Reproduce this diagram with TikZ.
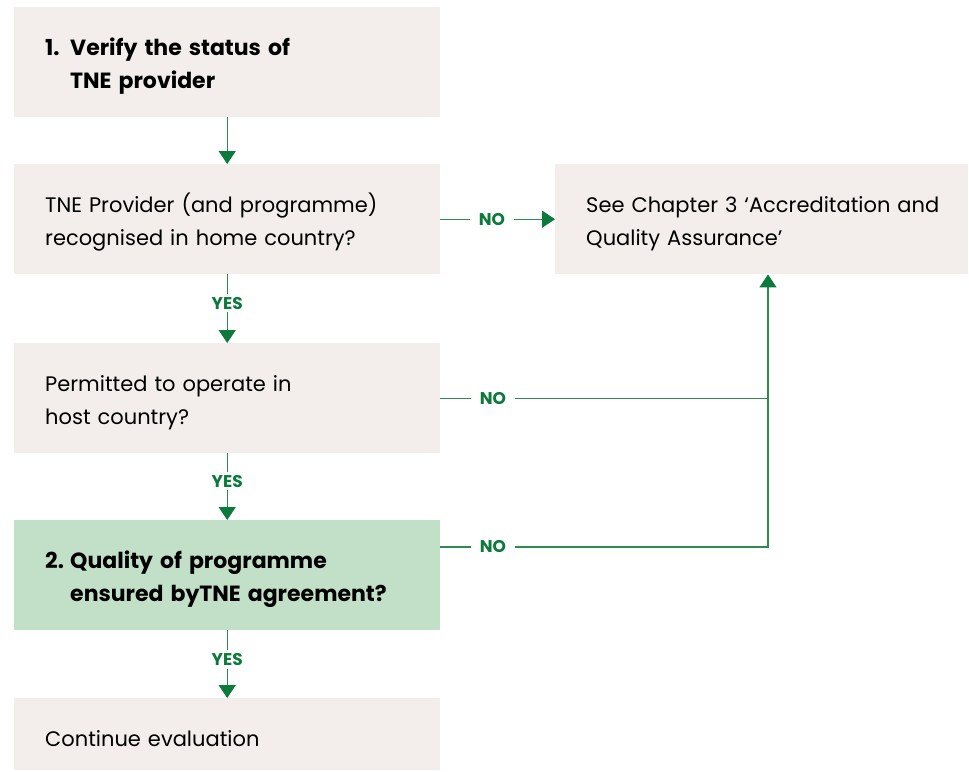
\documentclass[tikz,border=0pt]{standalone}
\usepackage{fontspec}
\setmainfont{Poppins}
\usetikzlibrary{arrows.meta,calc}
\definecolor{boxgrey}{HTML}{F3EEEB}
\definecolor{boxgreen}{HTML}{C2E0C7}
\definecolor{linkgreen}{HTML}{2E8B50}
\definecolor{labelgreen}{HTML}{0B7A3B}
\tikzset{
  stepbox/.style={rectangle, fill=boxgrey, draw=none, anchor=north west,
    minimum width=426pt, minimum height=110pt, text width=364pt,
    inner xsep=31pt, align=left, font=\fontsize{21}{33}\selectfont,
    execute at begin node={\rule{0pt}{25pt}}},
  keybox/.style={stepbox, fill=boxgreen},
  link/.style={draw=linkgreen, line width=1.3pt,
    -{Triangle[width=17pt,length=13pt,color=labelgreen]}},
  plainlink/.style={draw=linkgreen, line width=1.3pt},
  answer/.style={fill=white, text=labelgreen, inner xsep=9pt, inner ysep=3pt,
    font=\fontsize{17}{19}\selectfont\bfseries},
}
\newcommand{\numlabel}[1]{\makebox[25pt][l]{#1}}
\newcommand{\headfont}{\fontsize{22}{33}\selectfont\bfseries}
\begin{document}
\begin{tikzpicture}[x=1pt,y=-1pt]
\useasboundingbox (0,0) rectangle (969,771);
\fill[white] (0,0) rectangle (969,771);

% steps of the check
\node[stepbox] (verify) at (14,7)
  {\headfont\numlabel{1.}Verify the status of\\\hspace*{25pt}TNE provider};
\node[stepbox] (recog) at (14,164)
  {TNE Provider (and programme)\\recognised in home country?};
\node[stepbox, minimum width=413pt, text width=351pt] (chap) at (555,164)
  {\mbox{See Chapter 3 ‘Accreditation and}\\\mbox{Quality Assurance’}};
\node[stepbox] (permit) at (14,343)
  {Permitted to operate in\\host country?};
\node[keybox] (quality) at (14,520)
  {\headfont\numlabel{2.}Quality of programme\\\hspace*{25pt}ensured byTNE agreement?};
\node[stepbox, minimum height=72pt] (cont) at (14,698)
  {Continue evaluation};

% junction on the right-hand return line
\coordinate (junc) at (768,547);

% downward flow
\draw[link] (verify.south) -- (recog.north);
\draw[link] (recog.south) -- node[answer, pos=0.42]{YES} (permit.north);
\draw[link] (permit.south) -- node[answer, pos=0.42]{YES} (quality.north);
\draw[link] (quality.south) -- node[answer, pos=0.43]{YES} (cont.north);

% NO branches
\draw[link] (recog.east) -- node[answer, pos=0.45]{NO} (recog.east -| chap.west);
\draw[plainlink] (permit.east) -- node[answer, pos=0.16]{NO} (permit.east -| junc);
\draw[link] (quality.east |- junc) -- node[answer, pos=0.16]{NO} (junc)
  -- (junc |- chap.south);
\end{tikzpicture}
\end{document}
